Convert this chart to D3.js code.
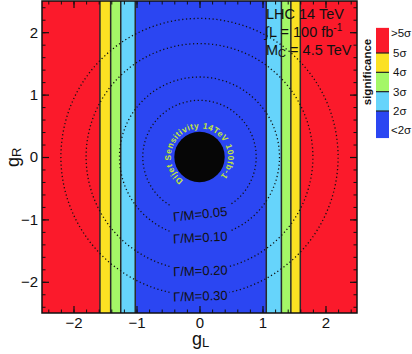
<!DOCTYPE html>
<html>
<head>
<meta charset="utf-8">
<script src="https://cdn.jsdelivr.net/npm/d3@7"></script>
<style>
  body { margin: 0; background: #fff; }
  svg { display: block; }
  text { font-family: "Liberation Sans", Arial, sans-serif; }
</style>
</head>
<body>
<svg id="chart" width="412" height="354"></svg>
<script>
// ---- data ----
// vertical significance bands along g_L (edges) and their significance class
const bandEdges = [-2.5, -1.58, -1.41, -1.25, -1.02, 1.06, 1.30, 1.45, 1.60, 2.5];
const bandClass = [">5σ", "4σ", "3σ", "2σ", "<2σ", "2σ", "3σ", "4σ", ">5σ"];
// legend classes (top to bottom) and their sigma extents
const legendClasses = [">5σ", "4σ", "3σ", "2σ", "<2σ"];
const legendLo = [5, 4, 3, 2, 0.6];
const legendHi = [6.3, 5, 4, 3, 2];
const legendLabels = [">5σ", "5σ", "4σ", "3σ", "2σ", "<2σ"];
const legendLabelSigma = [6.05, 5, 4, 3, 2, 1.0];
const classColors = ["#fb1a2b", "#fbe123", "#a4f767", "#66d4fb", "#2b46f2"];
// width contours
const widthLabels = ["Γ/M=0.05", "Γ/M=0.10", "Γ/M=0.20", "Γ/M=0.30"];
const widthRadii = [0.90, 1.27, 1.80, 2.20];
const labelTilt = [-6, -3, -2, -2];
const excludedRadius = 0.40;
const xTicks = [-2, -1, 0, 1, 2];
const yTicks = [-2, -1, 0, 1, 2];
const infoLines = ["LHC 14 TeV", "∫L = 100 fb", "M"];
const arcText = "Dijet Sensitivity 14TeV 100fb-1";

const svg = d3.select("#chart");
const x = d3.scaleLinear().domain([-2.5, 2.5]).range([42, 357]);
const y = d3.scaleLinear().domain([-2.5, 2.5]).range([313, 1]);
const color = d3.scaleOrdinal().domain(legendClasses).range(classColors);

const defs = svg.append("defs");
defs.append("clipPath").attr("id", "clip")
  .append("rect").attr("x", x(-2.5)).attr("y", y(2.5))
  .attr("width", x(2.5) - x(-2.5)).attr("height", y(-2.5) - y(2.5));

const plot = svg.append("g").attr("clip-path", "url(#clip)");

// bands
const bands = bandClass.map((c, i) => ({c, x0: bandEdges[i], x1: bandEdges[i + 1]}));
plot.selectAll("rect.band").data(bands).join("rect")
  .attr("class", "band")
  .attr("x", d => x(d.x0)).attr("width", d => x(d.x1) - x(d.x0))
  .attr("y", y(2.5)).attr("height", y(-2.5) - y(2.5))
  .attr("fill", d => color(d.c));
plot.selectAll("line.edge").data(bandEdges.slice(1, -1)).join("line")
  .attr("class", "edge")
  .attr("x1", d => x(d)).attr("x2", d => x(d))
  .attr("y1", y(2.5)).attr("y2", y(-2.5))
  .attr("stroke", "#2a2a2a").attr("stroke-width", 1.5);

// contours
const cx = x(0), cy = y(0);
widthRadii.forEach((r, i) => {
  const rp = x(r) - x(0);
  const halfGap = Math.asin(Math.min(1, 30 / rp));
  const p = d3.path();
  const a0 = Math.PI / 2 + halfGap, a1 = Math.PI / 2 - halfGap + 2 * Math.PI;
  p.moveTo(cx + rp * Math.cos(a0), cy + rp * Math.sin(a0));
  p.arc(cx, cy, rp, a0, a1);
  plot.append("path").attr("d", p.toString())
    .attr("fill", "none").attr("stroke", "#111").attr("stroke-width", 1.3)
    .attr("stroke-dasharray", "1.2,2.6");
  plot.append("text")
    .attr("transform", `translate(${cx + 1},${cy + rp + 5}) rotate(${labelTilt[i]})`)
    .attr("text-anchor", "middle").attr("font-size", 13)
    .attr("fill", "#111").text(widthLabels[i]);
});

// excluded disk
plot.append("circle").attr("cx", cx).attr("cy", cy)
  .attr("r", x(excludedRadius) - x(0)).attr("fill", "#060606");

// arc text
const rt = 28.5;
const s0 = 125 * Math.PI / 180, s1 = 405 * Math.PI / 180;
const tp = d3.path();
tp.moveTo(cx + rt * Math.cos(s0), cy + rt * Math.sin(s0));
tp.arc(cx, cy, rt, s0, s1);
defs.append("path").attr("id", "arcp").attr("d", tp.toString());
svg.append("text").attr("font-family", "DejaVu Sans").attr("font-size", 8.5)
  .attr("font-weight", "bold").attr("fill", "#c2e63a")
  .append("textPath").attr("href", "#arcp")
  .attr("textLength", rt * (s1 - s0) - 2).attr("lengthAdjust", "spacing")
  .text(arcText);

// axes
const frame = svg.append("g");
const minor = d3.range(-2.4, 2.41, 0.2).map(v => +v.toFixed(1));
function addAxis(axisFn, scale, transform, ticks, labels) {
  const gm = frame.append("g").attr("transform", transform)
    .call(axisFn(scale).tickValues(minor).tickSize(-3.5).tickFormat(""));
  gm.select(".domain").remove();
  gm.selectAll("line").attr("stroke", "#111");
  const g = frame.append("g").attr("transform", transform)
    .call(axisFn(scale).tickValues(ticks).tickSize(-7).tickPadding(4)
      .tickFormat(labels ? d3.format("d") : ""));
  g.select(".domain").remove();
  g.selectAll("line").attr("stroke", "#111").attr("stroke-width", 1.2);
  g.selectAll("text").attr("font-size", 15).attr("font-family", "Liberation Sans, Arial").attr("fill", "#111");
  return g;
}
addAxis(d3.axisBottom, x, `translate(0,${y(-2.5)})`, xTicks, true);
addAxis(d3.axisTop, x, `translate(0,${y(2.5)})`, xTicks, false);
addAxis(d3.axisLeft, y, `translate(${x(-2.5)},0)`, yTicks, true);
addAxis(d3.axisRight, y, `translate(${x(2.5)},0)`, yTicks, false);
frame.append("rect").attr("x", x(-2.5)).attr("y", y(2.5))
  .attr("width", x(2.5) - x(-2.5)).attr("height", y(-2.5) - y(2.5))
  .attr("fill", "none").attr("stroke", "#111").attr("stroke-width", 1.5);

// axis titles
const xt = svg.append("text").attr("x", 192).attr("y", 345).attr("font-size", 18).attr("fill", "#111");
xt.append("tspan").text("g");
xt.append("tspan").attr("font-size", 13).attr("dy", 2).text("L");
const yt = svg.append("text").attr("transform", "translate(19,167) rotate(-90)").attr("font-size", 18).attr("fill", "#111");
yt.append("tspan").text("g");
yt.append("tspan").attr("font-size", 13).attr("dy", 2).text("R");

// info text
const info = svg.append("g").attr("fill", "#111").attr("font-size", 14.5);
info.append("text").attr("x", 266).attr("y", 19).text(infoLines[0]);
const l2 = info.append("text").attr("x", 265).attr("y", 37);
l2.append("tspan").text(infoLines[1]);
l2.append("tspan").attr("font-size", 10).attr("dy", -6).text("-1");
const l3 = info.append("text").attr("x", 266).attr("y", 55);
l3.append("tspan").text(infoLines[2]);
l3.append("tspan").attr("font-size", 11).attr("dy", 2).text("C");
l3.append("tspan").attr("dy", -2).text(" = 4.5 TeV");

// legend
const ly = d3.scaleLinear().domain([2, 5]).range([111, 53]);
const leg = svg.append("g");
leg.selectAll("rect").data(legendClasses).join("rect")
  .attr("x", 376).attr("width", 13)
  .attr("y", (d, i) => ly(legendHi[i])).attr("height", (d, i) => ly(legendLo[i]) - ly(legendHi[i]))
  .attr("fill", d => color(d));
leg.selectAll("line").data([2, 3, 4, 5]).join("line")
  .attr("x1", 376).attr("x2", 389).attr("y1", d => ly(d)).attr("y2", d => ly(d))
  .attr("stroke", "#222").attr("stroke-width", 1.2);
leg.selectAll("text.lab").data(legendLabels).join("text")
  .attr("class", "lab")
  .attr("x", (d, i) => i === 0 || i === 5 ? 391 : 393)
  .attr("y", (d, i) => ly(legendLabelSigma[i]) + 4)
  .attr("font-size", 11.5).attr("fill", "#111").text(d => d);
leg.append("text").attr("transform", "translate(371,72) rotate(-90)")
  .attr("text-anchor", "middle").attr("font-size", 11.5).attr("font-weight", "bold")
  .attr("fill", "#111").text("significance");
</script>
</body>
</html>
